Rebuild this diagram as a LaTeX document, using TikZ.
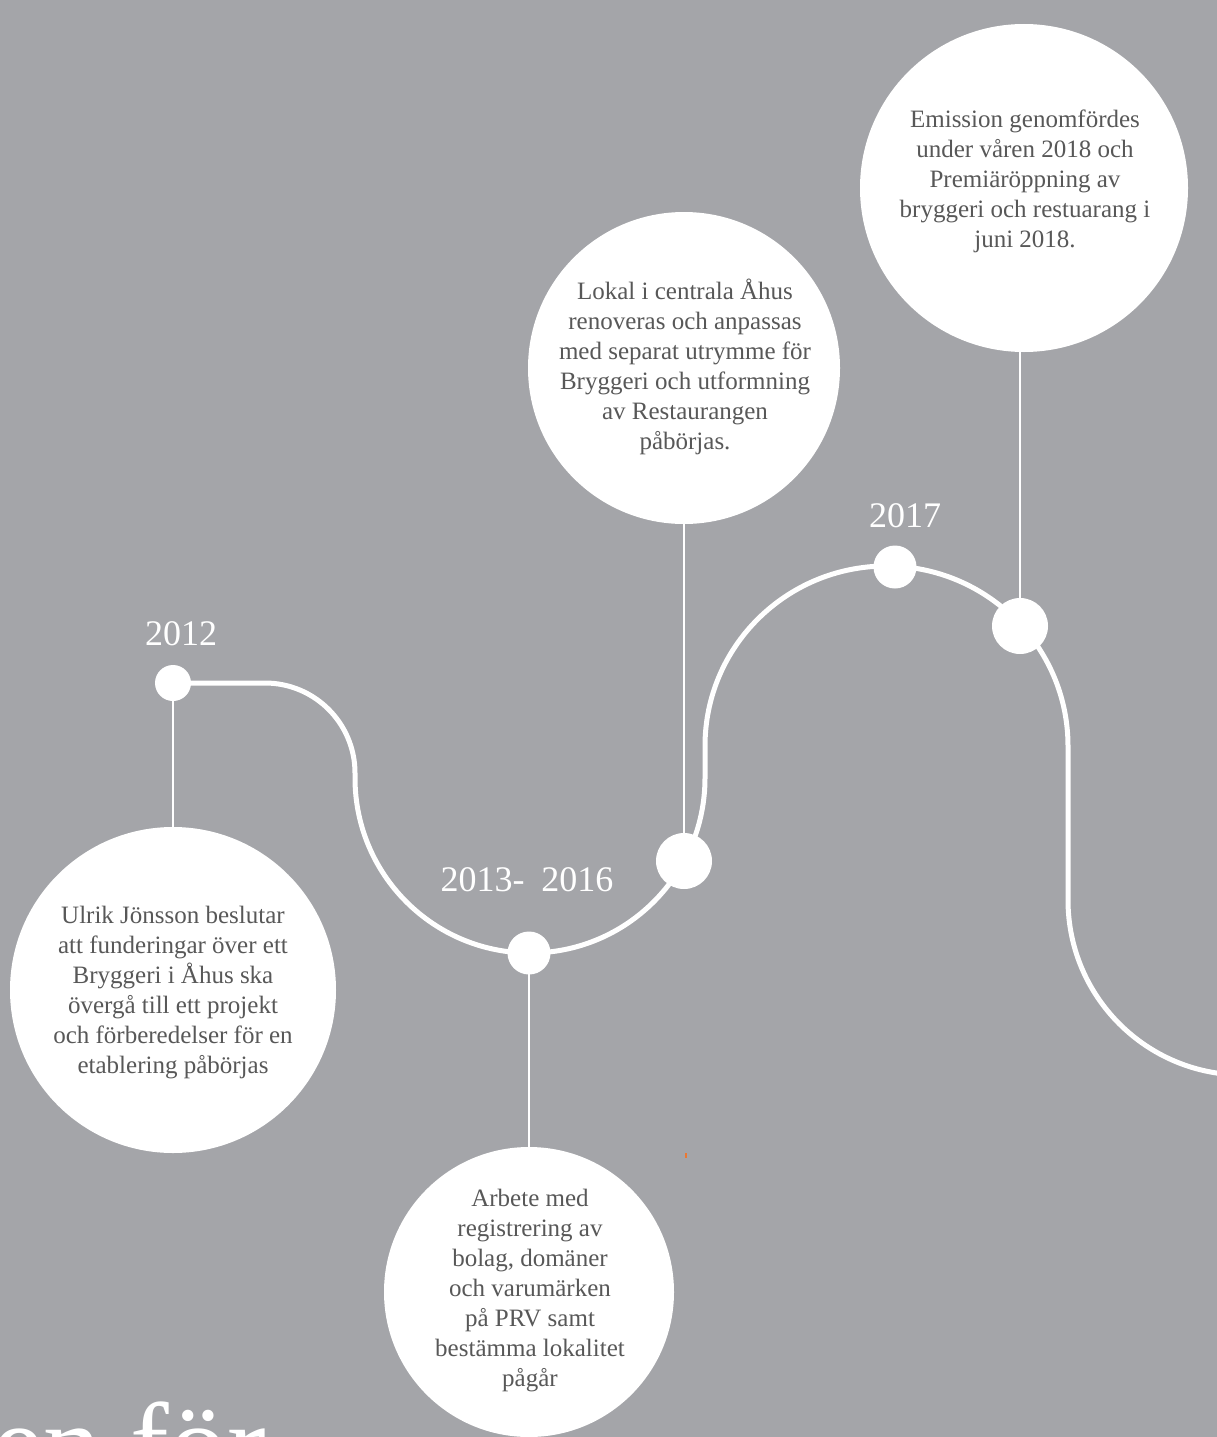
\documentclass[tikz,border=0pt]{standalone}
\usepackage{fontspec}
\setmainfont{Liberation Serif}
\usetikzlibrary{backgrounds}
\definecolor{bg}{RGB}{164,165,169}
\definecolor{txtgray}{RGB}{88,88,88}
\definecolor{speck}{RGB}{236,120,50}
\begin{document}
\begin{tikzpicture}[x=1pt,y=1pt,
  bigc/.style={circle, fill=white, inner sep=0pt},
  dotc/.style={circle, fill=white, inner sep=0pt},
  evtext/.style={align=center, text=txtgray, font=\fontsize{25}{30}\selectfont, inner sep=0pt},
  yeartext/.style={text=white, font=\fontsize{36}{36}\selectfont, inner sep=0pt, anchor=base},
  mainline/.style={white, line width=5pt},
  conn/.style={white, line width=2.5pt}]
\useasboundingbox (0,0) rectangle (1217,-1437);
\clip (0,0) rectangle (1217,-1437);

% big event circles
\node[bigc, minimum size=328pt] (ecirc) at (1024,-188) {};
\node[bigc, minimum size=312pt] (lcirc) at (684,-368) {};
\node[bigc, minimum size=326pt] (ucirc) at (173,-990) {};
\node[bigc, minimum size=290pt] (acirc) at (529,-1292) {};

% dots on the timeline
\node[dotc, minimum size=36pt] (d2012) at (173,-683) {};
\node[dotc, minimum size=43pt] (d2013) at (529,-953) {};
\node[dotc, minimum size=56pt] (dlokal) at (684,-861) {};
\node[dotc, minimum size=43pt] (d2017) at (895,-567) {};
\node[dotc, minimum size=56pt] (demis) at (1020,-626) {};

% texts
\node[evtext] (etext) at (1025,-181) {Emission genomfördes\\under våren 2018 och\\Premiäröppning av\\bryggeri och restuarang i\\juni 2018.};
\node[evtext] (ltext) at (685,-367) {Lokal i centrala Åhus\\renoveras och anpassas\\med separat utrymme för\\Bryggeri och utformning\\av Restaurangen\\påbörjas.};
\node[evtext] (utext) at (173,-993) {Ulrik Jönsson beslutar\\att funderingar över ett\\Bryggeri i Åhus ska\\övergå till ett projekt\\och förberedelser för en\\etablering påbörjas};
\node[evtext] (atext) at (530,-1291) {Arbete med\\registrering av\\bolag, domäner\\och varumärken\\på PRV samt\\bestämma lokalitet\\pågår};

% year labels
\node[yeartext] (y2012) at (181,-645) {2012};
\node[yeartext] (y2013) at (527,-891) {2013-\hspace{17pt}2016};
\node[yeartext] (y2017) at (905,-527) {2017};

% big title fragment (cut off by the lower edge, as in the original)
\node[anchor=base west, text=white, font=\fontsize{116}{116}\selectfont, inner sep=0pt] (title) at (-8,-1483) {en för};

% small orange speck
\fill[speck] (685,-1153) rectangle (687,-1158);

\begin{scope}[on background layer]
  \fill[bg] (0,0) rectangle (1217,-1437);
  \clip (0,0) rectangle (1217,-1437);
  \draw[mainline] (d2012.center) -- (265,-683)
     arc[start angle=90, end angle=0, radius=90] -- (355,-778)
     arc[start angle=180, end angle=360, radius=175] -- (705,-746)
     arc[start angle=180, end angle=0, x radius=181.5, y radius=180] -- (1068,-900)
     arc[start angle=180, end angle=270, radius=175];
  \draw[conn] (d2012.center) -- (ucirc.center);
  \draw[conn] (d2013.center) -- (d2013 |- acirc.center);
  \draw[conn] (dlokal.center) -- (lcirc.center);
  \draw[conn] (demis.center) -- (demis |- ecirc.center);
\end{scope}
\end{tikzpicture}
\end{document}
